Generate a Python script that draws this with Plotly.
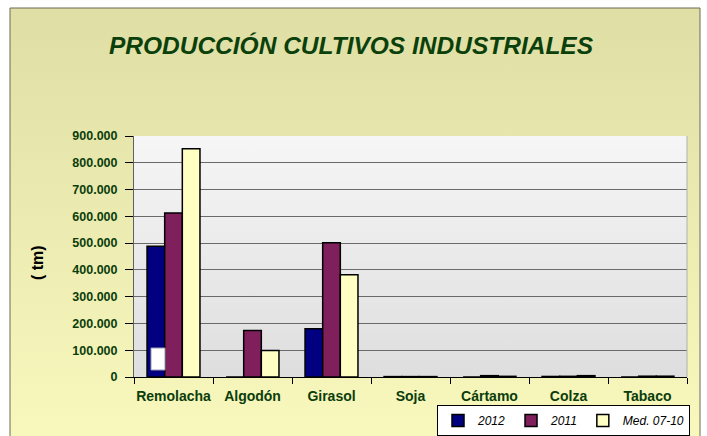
import base64
import plotly.graph_objects as go

categories = ["Remolacha", "Algodón", "Girasol", "Soja", "Cártamo", "Colza", "Tabaco"]
series_names = ["2012", "2011", "Med. 07-10"]
values_2012 = [488000, 0, 180000, 1500, 0, 2000, 0]
values_2011 = [612000, 174000, 501000, 1500, 5000, 2500, 3000]
values_med = [852000, 99000, 382000, 1500, 2500, 5000, 3000]
colors = ["#000080", "#7f1f5c", "#ffffc4"]
y_ticks = [0, 100000, 200000, 300000, 400000, 500000, 600000, 700000, 800000, 900000]

W, H = 707, 436
L, R, T, B = 134, 20, 136, 59
PW, PH = W - L - R, H - T - B

def px2x(px):
    return (px - L) / PW

def py2y(py):
    return (H - B - py) / PH

def grad_svg(top, bottom):
    svg = ('<svg xmlns="http://www.w3.org/2000/svg" width="100" height="100" preserveAspectRatio="none">'
           '<defs><linearGradient id="g" x1="0" y1="0" x2="0" y2="1">'
           f'<stop offset="0" stop-color="{top}"/><stop offset="1" stop-color="{bottom}"/>'
           '</linearGradient></defs><rect width="100" height="100" fill="url(#g)"/></svg>')
    return "data:image/svg+xml;base64," + base64.b64encode(svg.encode()).decode()

fig = go.Figure()
for name, vals, col in zip(series_names, [values_2012, values_2011, values_med], colors):
    fig.add_trace(go.Bar(
        x=categories, y=vals, name=name,
        marker=dict(color=col, line=dict(color="#000000", width=1.5)),
    ))

green = "#0b3d0b"
FONT = "Liberation Sans, Arial, sans-serif"
fig.update_layout(
    width=W, height=H,
    margin=dict(l=L, r=R, t=T, b=B, autoexpand=False),
    paper_bgcolor="#ffffff",
    plot_bgcolor="rgba(0,0,0,0)",
    separators=",.",
    barmode="group", bargap=0.33, bargroupgap=0,
    font=dict(family=FONT),
    title=dict(
        text="PRODUCCIÓN CULTIVOS INDUSTRIALES",
        x=351 / W, xanchor="center", y=1 - 45 / H, yanchor="middle",
        font=dict(size=24.5, color="#0b400b", weight="bold", style="italic", family=FONT),
    ),
    xaxis=dict(
        type="category", tickson="boundaries", ticks="outside", ticklen=6,
        tickcolor="#000000", showline=True, linecolor="#000000", linewidth=1,
        tickfont=dict(size=14, color=green, weight="bold"),
        tickangle=0, automargin=False, ticklabelstandoff=6,
        showgrid=False,
    ),
    yaxis=dict(
        range=[0, 900000], tickvals=y_ticks, tickformat=",d",
        ticks="outside", ticklen=8, tickcolor="#000000",
        showline=True, linecolor="#606060", linewidth=1,
        showgrid=True, gridcolor="#6a6a6a", gridwidth=1,
        zeroline=False, ticklabelstandoff=5, automargin=False,
        tickfont=dict(size=12.5, color=green, weight="bold"),
    ),
    legend=dict(
        orientation="h", x=px2x(690), xanchor="right", y=py2y(405), yanchor="top",
        bgcolor="#ffffff", bordercolor="#000000", borderwidth=1,
        font=dict(size=12, color="#000000", style="italic"),
        itemwidth=30, tracegroupgap=0,
    ),
    images=[
        dict(source=grad_svg("#dfdea5", "#f9f8bd"), xref="paper", yref="paper",
             x=px2x(10), y=py2y(8), sizex=690 / PW, sizey=440 / PH,
             xanchor="left", yanchor="top", sizing="stretch", layer="below"),
        dict(source=grad_svg("#f6f6f6", "#dedede"), xref="paper", yref="paper",
             x=0, y=1, sizex=1, sizey=1,
             xanchor="left", yanchor="top", sizing="stretch", layer="below"),
    ],
    shapes=[
        dict(type="rect", xref="paper", yref="paper",
             x0=px2x(10), x1=px2x(700), y0=py2y(440), y1=py2y(8),
             line=dict(color="#6b6b55", width=1), fillcolor="rgba(0,0,0,0)", layer="below"),
        dict(type="line", xref="paper", yref="paper", x0=1, x1=1, y0=0, y1=1,
             line=dict(color="#b0b0b0", width=1)),
        dict(type="rect", xref="paper", yref="paper",
             x0=px2x(151), x1=px2x(165), y0=py2y(370), y1=py2y(348),
             fillcolor="#ffffff", line=dict(color="#9a9ab0", width=1), layer="above"),
    ],
    annotations=[
        dict(text="( tm)", textangle=-90, xref="paper", yref="paper",
             x=px2x(37), y=py2y(263), xanchor="center", yanchor="middle",
             showarrow=False, font=dict(size=16, color="#000000", weight="bold")),
    ],
)

fig.write_html(
    "out.html",
    config={"displayModeBar": False},
    post_script="document.body.style.margin='0';document.body.style.overflow='hidden';",
)
